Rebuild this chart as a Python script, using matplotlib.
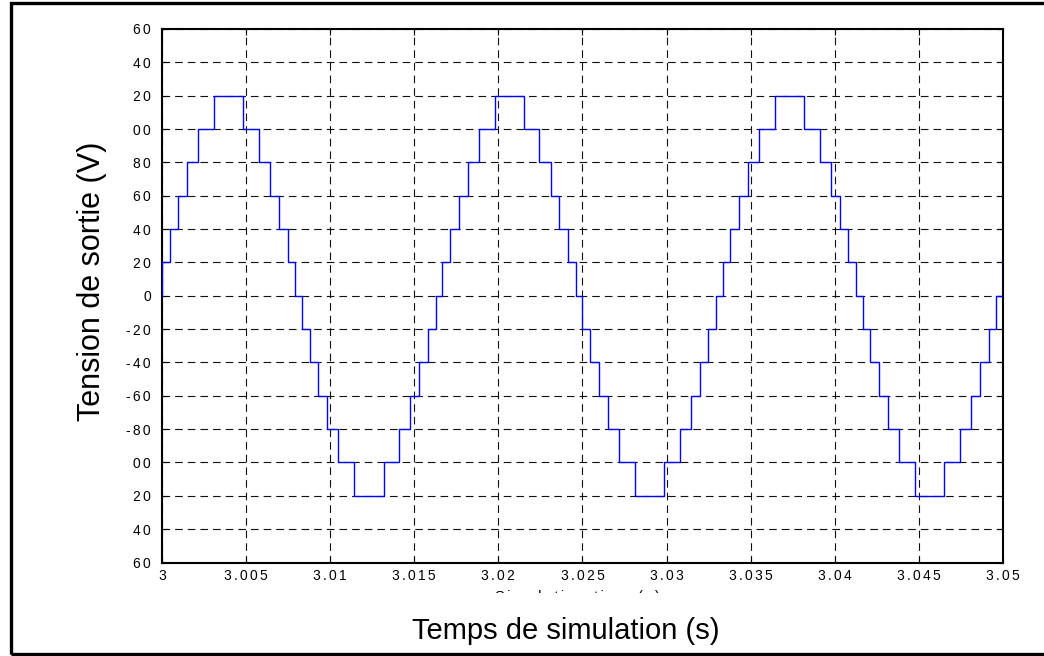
import matplotlib
matplotlib.use("Agg")
import matplotlib.pyplot as plt
from matplotlib.patches import Rectangle
from matplotlib.transforms import Bbox, TransformedBbox
import numpy as np

# switching instants of the 13-level inverter output (s) and the level reached (V)
switch_times = [
    3.00000, 3.00046, 3.00097, 3.00150, 3.00216, 3.00310,
    3.00483, 3.00577, 3.00643, 3.00696, 3.00747, 3.00793,
    3.00833, 3.00879, 3.00930, 3.00983, 3.01049, 3.01143,
    3.01317, 3.01411, 3.01477, 3.01530, 3.01581, 3.01627,
    3.01667, 3.01713, 3.01764, 3.01817, 3.01883, 3.01977,
    3.02150, 3.02244, 3.02310, 3.02363, 3.02414, 3.02460,
    3.02500, 3.02546, 3.02597, 3.02650, 3.02716, 3.02810,
    3.02984, 3.03078, 3.03144, 3.03197, 3.03248, 3.03294,
    3.03333, 3.03379, 3.03430, 3.03483, 3.03549, 3.03643,
    3.03816, 3.03910, 3.03976, 3.04029, 3.04080, 3.04126,
    3.04166, 3.04212, 3.04263, 3.04316, 3.04382, 3.04476,
    3.04650, 3.04744, 3.04810, 3.04863, 3.04914, 3.04960,
    3.05000,
]
levels = [
    20, 40, 60, 80, 100, 120,
    100, 80, 60, 40, 20, 0,
    -20, -40, -60, -80, -100, -120,
    -100, -80, -60, -40, -20, 0,
    20, 40, 60, 80, 100, 120,
    100, 80, 60, 40, 20, 0,
    -20, -40, -60, -80, -100, -120,
    -100, -80, -60, -40, -20, 0,
    20, 40, 60, 80, 100, 120,
    100, 80, 60, 40, 20, 0,
    -20, -40, -60, -80, -100, -120,
    -100, -80, -60, -40, -20, 0,
    20,
]

x_ticks = [3.0, 3.005, 3.01, 3.015, 3.02, 3.025, 3.03, 3.035, 3.04, 3.045, 3.05]
x_tick_labels = ["3", "3.005", "3.01", "3.015", "3.02", "3.025", "3.03",
                 "3.035", "3.04", "3.045", "3.05"]
y_ticks = list(range(160, -161, -20))
y_tick_labels = ["60", "40", "20", "00", "80", "60", "40", "20", "0",
                 "-20", "-40", "-60", "-80", "00", "20", "40", "60"]

plt.rcParams['font.family'] = ['Liberation Sans', 'DejaVu Sans']
plt.rcParams['lines.scale_dashes'] = False

W, H = 1044, 656
GAP = "\u2006"


def spaced(s):
    # old-style wide letter spacing of the tick labels
    return GAP.join(s)


fig = plt.figure(figsize=(W / 100, H / 100), dpi=100)
ax = fig.add_axes([162 / W, 1 - 562.5 / H, (1003 - 162) / W, (562.5 - 29) / H])

t = np.array([3.0] + switch_times)
v = np.array([0] + levels)
ax.plot(t, v, drawstyle='steps-post', color='#0000ff', lw=1.0, zorder=3)

ax.set_xlim(3.0, 3.05)
ax.set_ylim(-160, 160)
ax.set_xticks(x_ticks)
ax.set_xticklabels([spaced(s) for s in x_tick_labels], fontsize=10)
ax.set_yticks(y_ticks)
ax.set_yticklabels([spaced(s) for s in y_tick_labels], fontsize=10)
ax.tick_params(direction='in', length=4, width=0.8, top=True, right=True,
               pad=8, colors='black')
ax.tick_params(axis='x', pad=5)
ax.grid(True, color='#111111', lw=0.8, linestyle=(0, (5.5, 3.6)))
for sp in ax.spines.values():
    sp.set_linewidth(1.5)

fig.text(92 / W, 1 - 281 / H, "Tension de sortie (V)", rotation=90,
         fontsize=22, ha='center', va='center')
fig.text(566 / W, 1 - 639 / H, "Temps de simulation (s)", fontsize=21,
         ha='center', va='baseline')

# original axis label hidden behind the french one, only its top survives
hidden = fig.text(577 / W, 1 - 589.5 / H, spaced("Simulation time (s)"),
                  fontsize=10.5, ha='center', va='top')
hidden.set_clip_box(TransformedBbox(Bbox([[0, 1 - 592.5 / H], [1, 1 - 586 / H]]),
                                    fig.transFigure))
hidden.set_clip_on(True)

# frame around the figure
fig.patches.append(Rectangle((10.5 / W, 1 - 653.5 / H), 1.1, (653.5 - 2.5) / H,
                             transform=fig.transFigure, fill=False,
                             edgecolor='black', lw=2.4, clip_on=False))

fig.savefig("out.png", dpi=100)
